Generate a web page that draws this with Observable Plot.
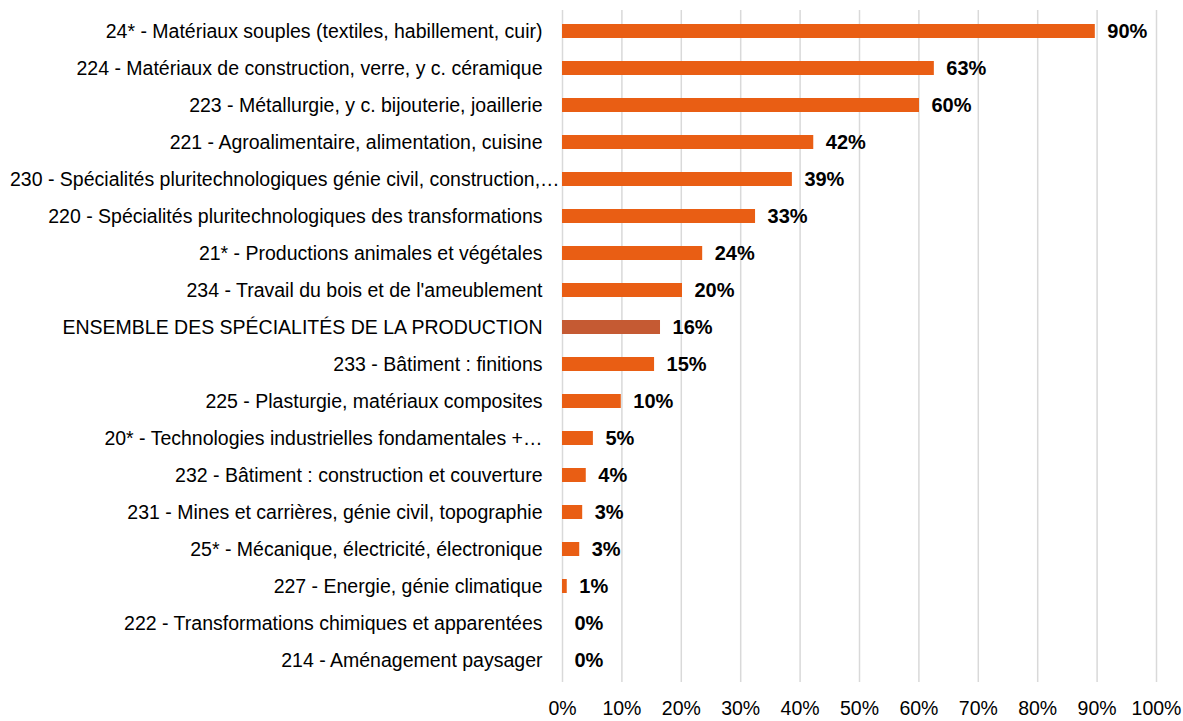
<!DOCTYPE html>
<html><head><meta charset="utf-8">
<script src="https://cdn.jsdelivr.net/npm/d3@7"></script>
<script src="https://cdn.jsdelivr.net/npm/@observablehq/plot@0.6"></script>
<style>
body{margin:0;background:#fff;}
#chart svg{display:block;}
</style>
</head><body><div id="chart"></div>
<script>
const categories = [
  "24* - Matériaux souples (textiles, habillement, cuir)",
  "224 - Matériaux de construction, verre, y c. céramique",
  "223 - Métallurgie, y c. bijouterie, joaillerie",
  "221 - Agroalimentaire, alimentation, cuisine",
  "230 - Spécialités pluritechnologiques génie civil, construction,…",
  "220 - Spécialités pluritechnologiques des transformations",
  "21* - Productions animales et végétales",
  "234 - Travail du bois et de l'ameublement",
  "ENSEMBLE DES SPÉCIALITÉS DE LA PRODUCTION",
  "233 - Bâtiment : finitions",
  "225 - Plasturgie, matériaux composites",
  "20* - Technologies industrielles fondamentales +…",
  "232 - Bâtiment : construction et couverture",
  "231 - Mines et carrières, génie civil, topographie",
  "25* - Mécanique, électricité, électronique",
  "227 - Energie, génie climatique",
  "222 - Transformations chimiques et apparentées",
  "214 - Aménagement paysager"
];
const values = [89.7, 62.6, 60.1, 42.3, 38.7, 32.5, 23.6, 20.2, 16.5, 15.5, 9.9, 5.2, 4.0, 3.4, 2.9, 0.8, 0, 0];
const valueLabels = ["90%","63%","60%","42%","39%","33%","24%","20%","16%","15%","10%","5%","4%","3%","3%","1%","0%","0%"];
const highlight = "ENSEMBLE DES SPÉCIALITÉS DE LA PRODUCTION";
const xTicks = [0,10,20,30,40,50,60,70,80,90,100];

const data = categories.map((c,i)=>({cat:c, v:values[i], lab:valueLabels[i]}));
const font = "'Liberation Sans Narrow','Arial Narrow','Liberation Sans',Arial,sans-serif";

const chart = Plot.plot({
  width: 1183, height: 721,
  marginLeft: 562, marginRight: 27, marginTop: 10, marginBottom: 39,
  style: {fontFamily: font, fontSize: "18px", color: "#000", background: "#fff"},
  x: {domain: [0,100], ticks: xTicks, tickFormat: d => d + "%", label: null},
  y: {domain: categories, label: null, paddingInner: 0.62, paddingOuter: 0.32},
  marks: [
    Plot.gridX(xTicks, {stroke: "#d9d9d9", strokeOpacity: 1, strokeWidth: 1.5}),
    Plot.barX(data, {x: "v", y: "cat", fill: d => d.cat === highlight ? "#C55A33" : "#E95E14"}),
    Plot.text(data, {x: "v", y: "cat", text: "lab", textAnchor: "start", dx: 12, fontWeight: "bold", fontSize: 20, fill: "#000"}),
    Plot.axisX(xTicks, {tickSize: 0, tickPadding: 19, fontSize: 19.5, tickFormat: d => d + "%", label: null}),
    Plot.axisY({tickSize: 0, tickPadding: 20, fontSize: 19.5, label: null})
  ]
});
document.getElementById("chart").append(chart);
// Over-long category labels start at the left edge and overflow rightwards, as in the original
d3.select(chart).selectAll('g[aria-label="y-axis tick label"] text').each(function() {
  const b = this.getBBox();
  const ctm = this.getCTM();
  const left = ctm ? ctm.e + b.x : b.x;
  if (left < 10) {
    this.setAttribute("x", (+this.getAttribute("x") || 0) + (10 - left));
  }
});
</script>
</body></html>
